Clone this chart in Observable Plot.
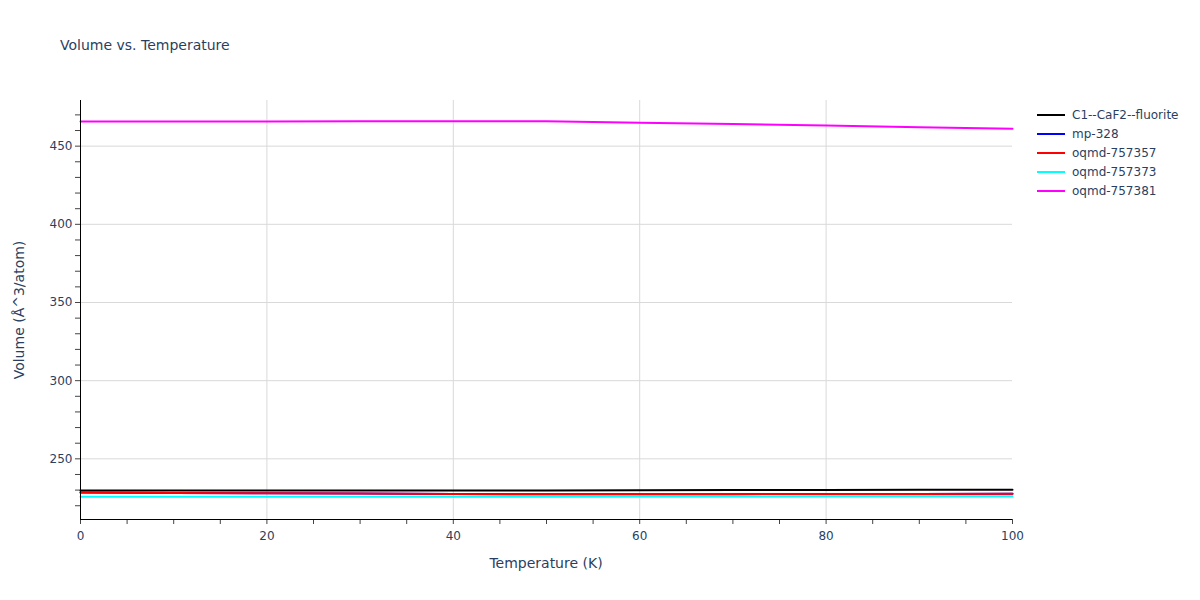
<!DOCTYPE html>
<html><head><meta charset="utf-8">
<script src="https://cdn.jsdelivr.net/npm/d3@7"></script>
<script src="https://cdn.jsdelivr.net/npm/@observablehq/plot@0.6"></script>
<style>
body{margin:0;background:#fff;font-family:"DejaVu Sans",sans-serif;color:#2a3f5f;}
#wrap{position:relative;width:1200px;height:600px;}
#wrap svg{position:absolute;left:0;top:0;}
.abs{position:absolute;white-space:nowrap;line-height:1;}
#title{left:60px;top:38px;font-size:14px;}
#xlabel{left:546px;top:556px;font-size:14px;transform:translateX(-50%);}
#ylabel{left:19px;top:310px;font-size:14px;transform:translate(-50%,-50%) rotate(-90deg);}
.leg{position:absolute;left:1037px;height:19px;display:flex;align-items:center;font-size:12px;}
.leg span.sw{display:inline-block;width:28px;height:2px;margin-right:7px;}
</style></head><body>
<div id="wrap">
<div id="title" class="abs">Volume vs. Temperature</div>
<div id="xlabel" class="abs">Temperature (K)</div>
<div id="ylabel" class="abs">Volume (Å^3/atom)</div>
</div>
<script>
const temperatures = [0, 10, 20, 30, 40, 50, 60, 70, 80, 90, 100];
const seriesNames = ["C1--CaF2--fluorite", "mp-328", "oqmd-757357", "oqmd-757373", "oqmd-757381"];
const seriesColors = ["#000000", "#0000ff", "#ff0000", "#00ffff", "#ff00ff"];
const volC1 = [229.7, 229.7, 229.7, 229.7, 229.8, 229.8, 229.9, 230.0, 230.1, 230.2, 230.3];
const volMp328 = [228.4, 228.2, 228.0, 227.8, 227.5, 227.3, 227.3, 227.4, 227.5, 227.5, 227.6];
const volOqmd757357 = [228.4, 228.2, 228.0, 227.8, 227.5, 227.3, 227.3, 227.4, 227.5, 227.5, 227.6];
const volOqmd757373 = [225.7, 225.7, 225.7, 225.7, 225.8, 225.8, 225.9, 225.9, 226.0, 226.0, 226.1];
const volOqmd757381 = [465.8, 465.8, 465.8, 465.9, 465.9, 465.9, 465.0, 464.1, 463.2, 462.1, 461.1];
const seriesValues = [volC1, volMp328, volOqmd757357, volOqmd757373, volOqmd757381];
const xTicks = [0, 20, 40, 60, 80, 100];
const yTicks = [250, 300, 350, 400, 450];
const yDomain = [211.2, 479.2];

const data = [];
seriesNames.forEach((name, i) => seriesValues[i].forEach((v, j) => data.push({series: name, T: temperatures[j], V: v})));

const chart = Plot.plot({
  width: 1200, height: 600,
  marginLeft: 80, marginRight: 188, marginTop: 100, marginBottom: 81,
  x: {domain: [0, 100]},
  y: {domain: yDomain},
  color: {domain: seriesNames, range: seriesColors},
  style: {fontFamily: '"DejaVu Sans", sans-serif', fontSize: "12px", color: "#2a3f5f", background: "transparent"},
  marks: [
    Plot.gridX(xTicks.slice(1, -1), {stroke: "#d9d9d9", strokeOpacity: 1}),
    Plot.gridY(yTicks, {stroke: "#d9d9d9", strokeOpacity: 1}),
    Plot.axisX(d3.range(0, 101, 5), {tickSize: 5, tickFormat: () => "", stroke: "#444", label: null}),
    Plot.axisX(xTicks, {tickSize: 0, tickPadding: 12, label: null, fill: "#2a3f5f"}),
    Plot.axisY(d3.range(220, 471, 10), {tickSize: 5, tickFormat: () => "", stroke: "#444", label: null}),
    Plot.axisY(yTicks, {tickSize: 0, tickPadding: 8, label: null, fill: "#2a3f5f"}),
    Plot.line(data, {x: "T", y: "V", z: "series", stroke: "series", strokeWidth: 2}),
    Plot.ruleX([0], {stroke: "#000", strokeWidth: 1}),
    Plot.ruleY([yDomain[0]], {stroke: "#000", strokeWidth: 1})
  ]
});
const wrap = document.getElementById("wrap");
wrap.appendChild(chart);

seriesNames.forEach((name, i) => {
  const d = document.createElement("div");
  d.className = "leg";
  d.style.top = (115 + 19 * i - 9.5) + "px";
  d.innerHTML = `<span class="sw" style="background:${seriesColors[i]}"></span><span>${name}</span>`;
  wrap.appendChild(d);
});
</script>
</body></html>
